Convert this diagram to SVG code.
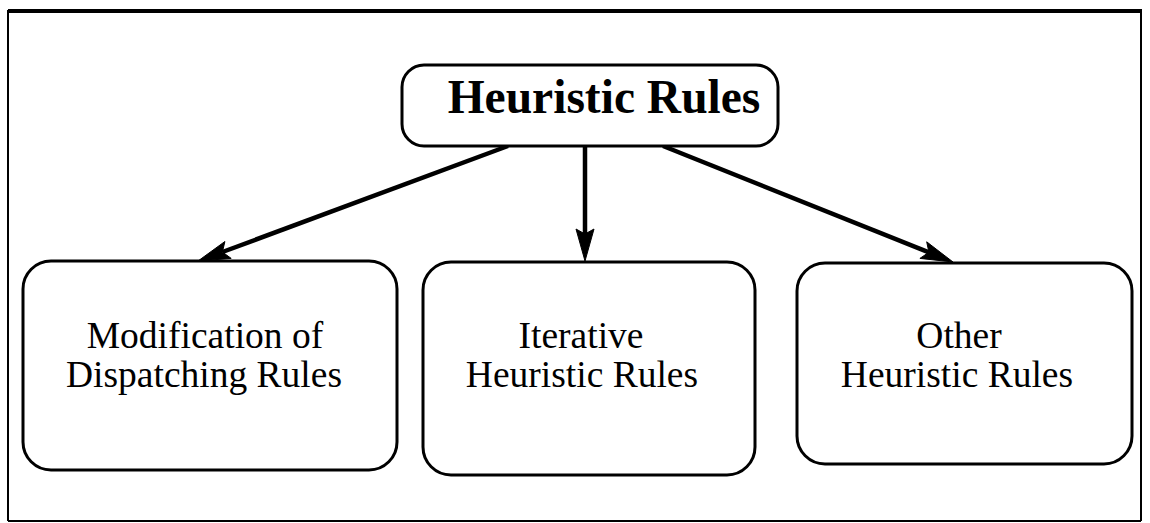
<svg xmlns="http://www.w3.org/2000/svg" width="1150" height="523" viewBox="0 0 1150 523">
  <style>
    .box { fill: #fff; stroke: #000; stroke-width: 3; }
    .label { font-family: "Liberation Serif", "Times New Roman", serif; font-size: 37.5px; fill: #000; text-anchor: middle; }
    .title { font-family: "Liberation Serif", "Times New Roman", serif; font-size: 47.5px; font-weight: bold; fill: #000; text-anchor: middle; }
    .link { stroke: #000; stroke-width: 4.5; fill: none; }
    .head { fill: #000; stroke: #000; stroke-width: 1; stroke-linejoin: miter; }
  </style>
  <rect width="1150" height="523" fill="#fff"/>

  <!-- outer frame -->
  <g id="frame" fill="none" stroke="#000">
    <line x1="8" y1="11" x2="1142" y2="11" stroke-width="4"/>
    <line x1="8" y1="10" x2="8" y2="521" stroke-width="2"/>
    <line x1="1141" y1="10" x2="1141" y2="521" stroke-width="2"/>
    <line x1="8" y1="521" x2="1141" y2="521" stroke-width="2"/>
  </g>

  <!-- connectors: shafts end at the notch of each filled head -->
  <g id="connectors">
    <line class="link" x1="508" y1="146" x2="222.4" y2="252.0"/>
    <path class="head" d="M198,261 L231.2,258.4 L222.4,252.0 L224.9,241.5 Z"/>

    <line class="link" x1="585" y1="146" x2="585" y2="234"/>
    <path class="head" d="M585,261 L576,229 L585,234 L594,229 Z"/>

    <line class="link" x1="663" y1="146" x2="928.9" y2="252.3"/>
    <path class="head" d="M953,262 L919.9,258.4 L928.9,252.3 L926.7,241.8 Z"/>
  </g>

  <g id="root">
    <rect class="box" x="402" y="65" width="376" height="81" rx="22"/>
    <text class="title" x="604" y="113">Heuristic Rules</text>
  </g>

  <g id="dispatching">
    <rect class="box" x="23" y="261" width="374" height="209" rx="28"/>
    <text class="label" x="205" y="348">Modification of</text>
    <text class="label" x="204" y="387">Dispatching Rules</text>
  </g>

  <g id="iterative">
    <rect class="box" x="423" y="262" width="332" height="213" rx="28"/>
    <text class="label" x="581" y="348">Iterative</text>
    <text class="label" x="582" y="387">Heuristic Rules</text>
  </g>

  <g id="other">
    <rect class="box" x="797" y="263" width="335" height="201" rx="28"/>
    <text class="label" x="959" y="348">Other</text>
    <text class="label" x="957" y="387">Heuristic Rules</text>
  </g>
</svg>
